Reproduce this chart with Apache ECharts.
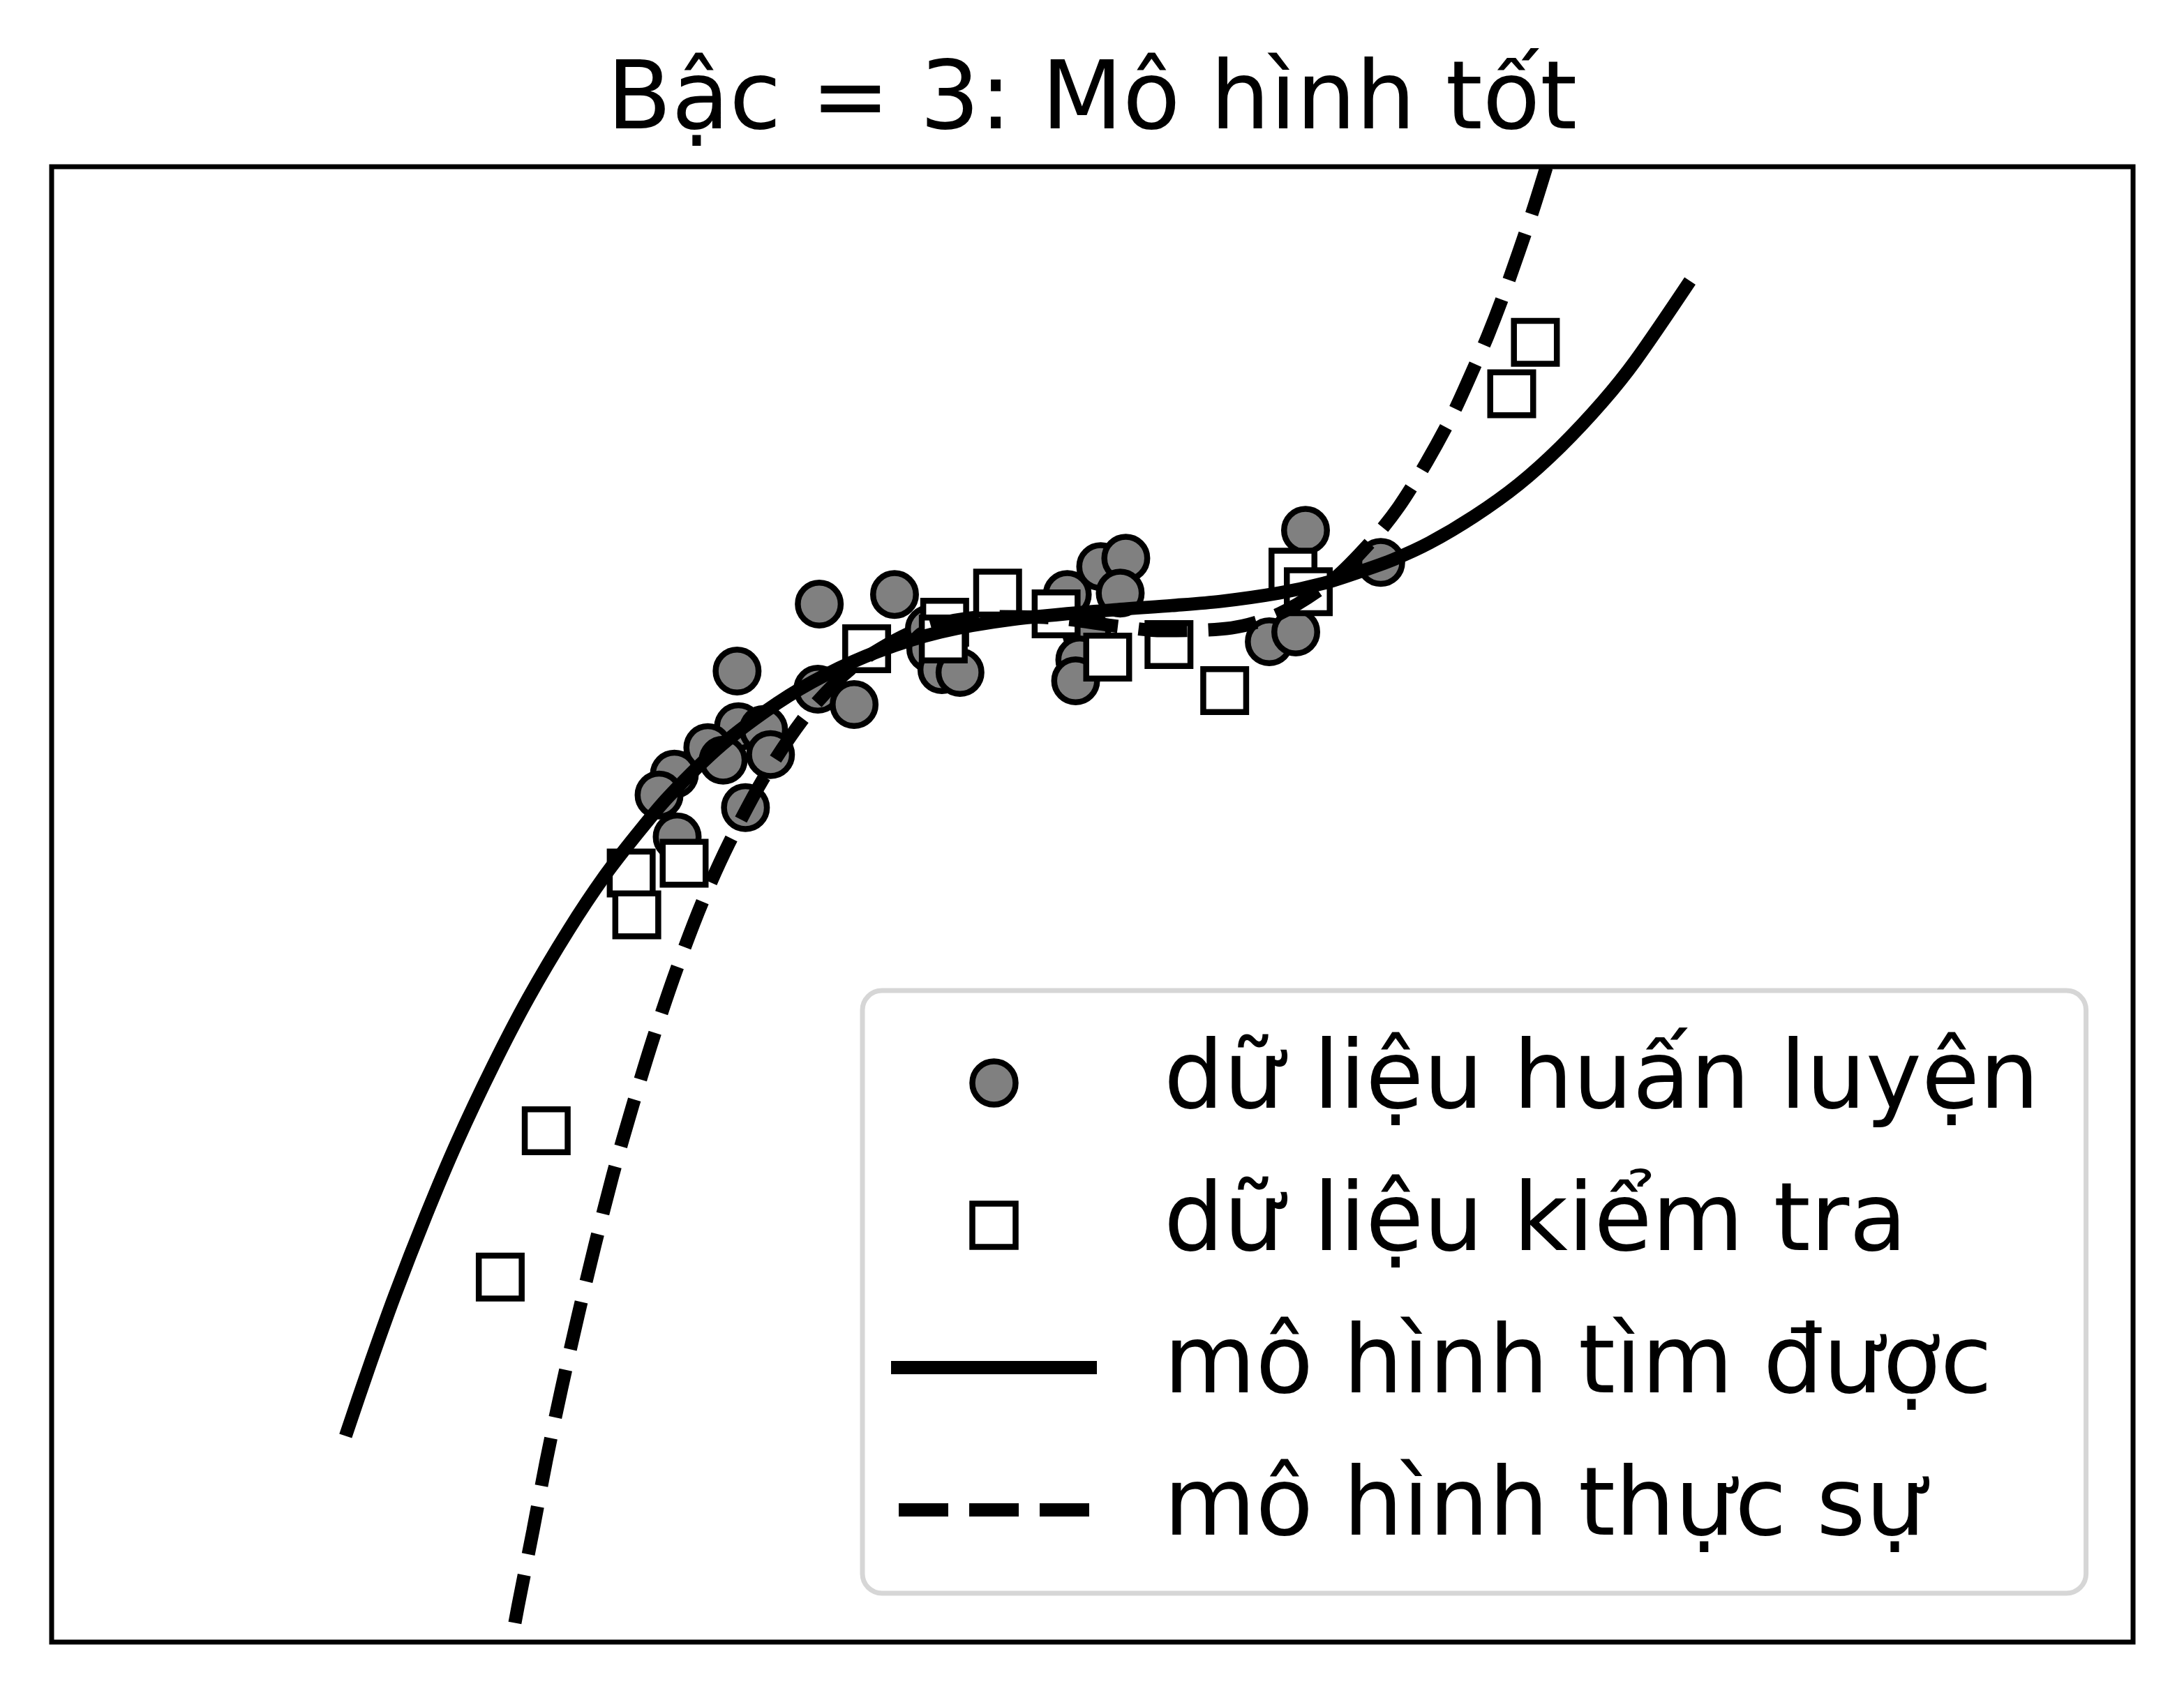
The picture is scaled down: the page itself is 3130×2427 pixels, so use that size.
<!DOCTYPE html>
<html><head><meta charset="utf-8">
<script src="https://cdn.jsdelivr.net/npm/echarts@6/dist/echarts.min.js"></script>
<style>html,body{margin:0;padding:0;background:#fff}#c{width:3130px;height:2427px}</style>
</head><body><div id="c"></div>
<script>
const titleText = 'Bậc = 3: Mô hình tốt';
const seriesNames = ['dữ liệu huấn luyện', 'dữ liệu kiểm tra', 'mô hình tìm được', 'mô hình thực sự'];

// training data (circles)
const trainX = [551, 605, 492, 550, 576, 493, 511, 471, 482, 516, 447, 436, 498, 449, 630, 631, 639, 652, 729, 753, 771, 767, 743, 738, 735, 874, 893, 900, 954];
const trainY = [745, 752, 697, 684, 673, 657, 655, 642, 633, 637, 623, 608, 599, 578, 727, 713, 698, 696, 752, 772, 778, 753, 724, 705, 690, 718, 725, 798, 775];

// test data (squares)
const testX = [1065, 1048, 891, 902, 679, 721, 641, 640, 585, 758, 802, 842, 454, 416, 420, 355, 322];
const testY = [933, 896, 768, 754, 753, 738, 732, 720, 713, 707, 716, 683, 559, 552, 522, 367, 262];

// fitted model (solid)
const fitX = [211, 227, 246, 269, 291, 317, 342, 371, 397, 421, 443, 481, 521, 555, 593, 638, 689, 763, 804, 839, 881, 913, 938, 963, 989, 1021, 1053, 1083, 1113, 1137, 1176];
const fitY = [148, 195, 248, 307, 359, 414, 462, 511, 550, 581, 607, 644, 674, 694, 711, 725, 734, 741, 744, 747, 753, 760, 768, 777, 789, 808, 831, 858, 890, 920, 977];

// true model (dashed)
const trueX = [330, 335, 345.5, 355, 366, 378, 390, 403, 417, 432, 449, 467, 486, 511, 539, 563, 585, 623, 673, 720, 766, 797, 847, 881, 919, 948, 967, 987, 1006, 1021, 1031, 1044, 1062, 1073];
const trueY = [0, 27, 80, 130, 182, 235, 285, 336, 385, 434, 484, 531, 573, 620, 662, 689, 707, 727, 736, 735, 729, 726, 728, 738, 762, 791, 815, 847, 882, 915, 938, 972, 1024, 1059];

const zip = (xs, ys) => xs.map((x, i) => [x, ys[i]]);
const FONT = 'DejaVu Sans';

const chart = echarts.init(document.getElementById('c'), null, {renderer: 'canvas'});
chart.setOption({
  animation: false,
  backgroundColor: '#fff',
  title: {
    text: titleText, left: 'center', top: 81, padding: 0,
    textStyle: {fontFamily: FONT, fontSize: 135, fontWeight: 'normal', color: '#000'}
  },
  grid: {left: 74, top: 239, width: 2983, height: 2115, show: true, borderColor: '#000', borderWidth: 7, backgroundColor: '#fff', containLabel: false},
  xAxis: {type: 'value', min: 0, max: 1494, show: false},
  yAxis: {type: 'value', min: 0, max: 1059, show: false},
  legend: {
    orient: 'vertical', left: 1236, top: 1420,
    padding: [65, 67, 52, 41],
    backgroundColor: '#fff', borderColor: '#d6d6d6', borderWidth: 7, borderRadius: 28,
    itemWidth: 295, itemHeight: 62, itemGap: 69,
    selectedMode: false, symbolKeepAspect: true,
    textStyle: {fontFamily: FONT, fontSize: 135, color: '#000', lineHeight: 135, padding: [0, 0, 0, 91]},
    data: [
      {name: seriesNames[0], icon: 'circle', itemStyle: {color: '#808080', borderColor: '#000', borderWidth: 8.5}},
      {name: seriesNames[1], icon: 'path://M0,0H10V10H0Z', itemStyle: {color: '#fff', borderColor: '#000', borderWidth: 8.5}},
      {name: seriesNames[2], icon: 'path://M0,0H295V19H0Z', itemStyle: {color: '#000', borderWidth: 0}},
      {name: seriesNames[3], icon: 'path://M0,0L0,19Z M295,0L295,19Z M11,0H82V19H11Z M112,0H183V19H112Z M213,0H284V19H213Z', itemStyle: {color: '#000', borderWidth: 0}}
    ]
  },
  series: [
    {name: seriesNames[0], type: 'scatter', data: zip(trainX, trainY), symbol: 'circle', symbolSize: 61.5, silent: true,
     itemStyle: {color: '#808080', borderColor: '#000', borderWidth: 8.5, opacity: 1}},
    {name: seriesNames[1], type: 'scatter', data: zip(testX, testY), symbol: 'rect', symbolSize: 61.5, silent: true,
     itemStyle: {color: '#fff', borderColor: '#000', borderWidth: 8.5, opacity: 1}},
    {name: seriesNames[2], type: 'line', data: zip(fitX, fitY), smooth: 0.3, symbol: 'none', showSymbol: false, silent: true,
     lineStyle: {color: '#000', width: 19, type: 'solid', cap: 'butt'}, itemStyle: {color: '#000'}},
    {name: seriesNames[3], type: 'line', data: zip(trueX, trueY), smooth: 0.3, symbol: 'none', showSymbol: false, silent: true,
     lineStyle: {color: '#000', width: 19, type: [70, 30], dashOffset: 72, cap: 'butt'}, itemStyle: {color: '#000'}}
  ]
});
</script></body></html>
